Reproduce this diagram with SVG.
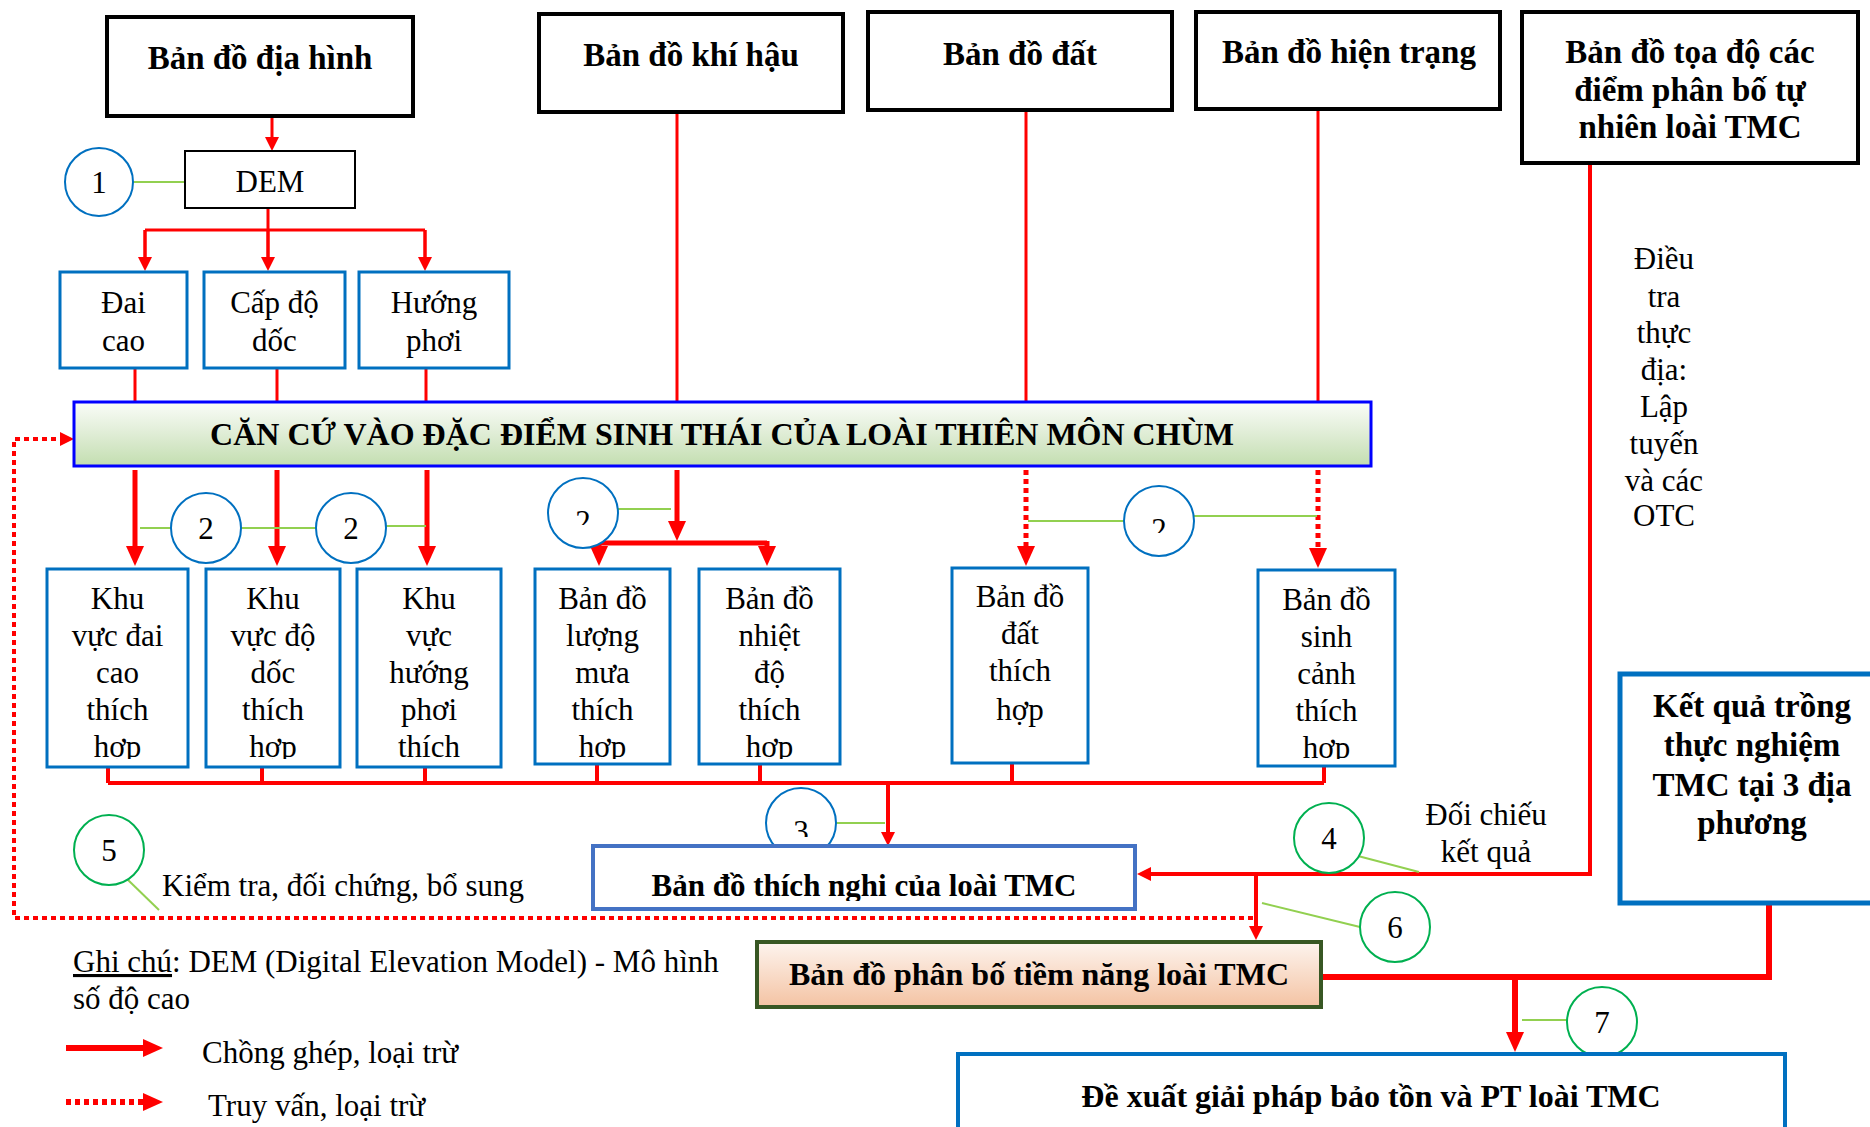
<svg xmlns="http://www.w3.org/2000/svg" width="1870" height="1127" viewBox="0 0 1870 1127">
<defs>
<style>
text{font-family:"Liberation Serif","Times New Roman",serif;fill:#000}
.b{font-weight:bold;font-size:33px;text-anchor:middle}
.m{font-weight:bold;font-size:32px;text-anchor:middle}
.r{font-size:31px;text-anchor:middle}
.l{font-size:31px}
.kbox{fill:#fff;stroke:#000;stroke-width:4}
.bbox{fill:#fff;stroke:#0070C0;stroke-width:3}
.ln{fill:none;stroke:#f00;stroke-width:3}
.th{stroke-width:5}
.md{stroke-width:4}
.xt{stroke-width:6}
.dt{stroke-dasharray:5 4}
.cb{fill:#fff;stroke:#0070C0;stroke-width:2}
.cg{fill:#fff;stroke:#00B050;stroke-width:2}
.ld{stroke:#92D050;stroke-width:2;fill:none}
</style>
<linearGradient id="gGreen" x1="0" y1="0" x2="0" y2="1">
<stop offset="0" stop-color="#FAFDF8"/><stop offset="0.45" stop-color="#E2EED9"/><stop offset="1" stop-color="#C3DEB0"/>
</linearGradient>
<linearGradient id="gPeach" x1="0" y1="0" x2="0" y2="1">
<stop offset="0" stop-color="#FDF4EE"/><stop offset="1" stop-color="#F4C3A3"/>
</linearGradient>
<marker id="aS" markerUnits="userSpaceOnUse" viewBox="0 0 14 14" refX="1" refY="7" markerWidth="14" markerHeight="14" orient="auto"><path d="M0,0L14,7L0,14z" fill="#f00"/></marker>
<marker id="aL" markerUnits="userSpaceOnUse" viewBox="0 0 20 18" refX="1" refY="9" markerWidth="20" markerHeight="18" orient="auto"><path d="M0,0L20,9L0,18z" fill="#f00"/></marker>
<clipPath id="cRow" clipPathUnits="userSpaceOnUse"><rect x="0" y="0" width="1870" height="759"/></clipPath>
<clipPath id="cC2" clipPathUnits="userSpaceOnUse"><rect x="0" y="0" width="1870" height="525"/></clipPath>
<clipPath id="cC2b" clipPathUnits="userSpaceOnUse"><rect x="0" y="0" width="1870" height="533"/></clipPath>
<clipPath id="cC3" clipPathUnits="userSpaceOnUse"><rect x="0" y="0" width="1870" height="837"/></clipPath>
<clipPath id="cTN" clipPathUnits="userSpaceOnUse"><rect x="0" y="0" width="1870" height="901"/></clipPath>
</defs>
<rect width="1870" height="1127" fill="#fff"/>

<g id="connectors">
<path class="ln" d="M272,116V138" marker-end="url(#aS)"/>
<path class="ln" d="M268,208V258M145,230H425M145,230V258M425,230V258"/>
<path class="ln" d="M268,230V258" marker-end="url(#aS)"/>
<path class="ln" d="M145,230V258" marker-end="url(#aS)"/>
<path class="ln" d="M425,230V258" marker-end="url(#aS)"/>
<path class="ln" d="M135,368V402M277,368V402M426,368V402"/>
<path class="ln" d="M677,112V402M1026,110V402M1318,109V402"/>
<path class="ln th" d="M135,470V547" marker-end="url(#aL)"/>
<path class="ln th" d="M277,470V547" marker-end="url(#aL)"/>
<path class="ln th" d="M427,470V547" marker-end="url(#aL)"/>
<path class="ln th" d="M677,470V522" marker-end="url(#aL)"/>
<path class="ln th" d="M599,543H767"/>
<path class="ln th" d="M599,541V547" marker-end="url(#aL)"/>
<path class="ln th" d="M767,541V547" marker-end="url(#aL)"/>
<path class="ln th dt" d="M1026,470V547" marker-end="url(#aL)"/>
<path class="ln th dt" d="M1318,470V549" marker-end="url(#aL)"/>
<path class="ln md" d="M108,767V783M262,764V783M425,767V783M597,764V783M760,764V783M1012,763V783M1324,766V783M108,783H1324"/>
<path class="ln md" d="M888,783V833" marker-end="url(#aS)"/>
<path class="ln md" d="M1590,163V874H1150" marker-end="url(#aS)"/>
<path class="ln md" d="M1256,874V927" marker-end="url(#aS)"/>
<path class="ln md dt" d="M1253,918H14V439H61" marker-end="url(#aS)"/>
<path class="ln xt" d="M1769,903V977H1321"/>
<path class="ln xt" d="M1515,977V1033" marker-end="url(#aL)"/>
<path class="ld" d="M133,182H185"/>
<path class="ld" d="M140,528H171M241,528H316M386,526H426"/>
<path class="ld" d="M618,509H671"/>
<path class="ld" d="M1028,521H1124M1194,516H1317"/>
<path class="ld" d="M836,823H885"/>
<path class="ld" d="M1358,856L1419,872"/>
<path class="ld" d="M127,879L159,910"/>
<path class="ld" d="M1262,903L1360,927"/>
<path class="ld" d="M1522,1020H1567"/>
</g>

<g id="n-diahinh"><rect class="kbox" x="107" y="17" width="306" height="99"/><text class="b" x="260" y="69">Bản đồ địa hình</text></g>
<g id="n-khihau"><rect class="kbox" x="539" y="14" width="304" height="98"/><text class="b" x="691" y="66">Bản đồ khí hậu</text></g>
<g id="n-dat"><rect class="kbox" x="868" y="12" width="304" height="98"/><text class="b" x="1020" y="65">Bản đồ đất</text></g>
<g id="n-hientrang"><rect class="kbox" x="1196" y="12" width="304" height="97"/><text class="b" x="1349" y="63">Bản đồ hiện trạng</text></g>
<g id="n-toado"><rect class="kbox" x="1522" y="12" width="336" height="151"/>
<text class="b" x="1690" y="63">Bản đồ tọa độ các</text><text class="b" x="1690" y="101">điểm phân bố tự</text><text class="b" x="1690" y="138">nhiên loài TMC</text></g>

<g id="n-dem"><rect x="185" y="151" width="170" height="57" fill="#fff" stroke="#000" stroke-width="2"/><text class="r" x="270" y="192">DEM</text></g>
<g id="c1"><circle class="cb" cx="99" cy="182" r="34"/><text class="r" x="99" y="193">1</text></g>

<g id="n-daicao"><rect class="bbox" x="60" y="272" width="127" height="96"/><text class="r" x="123.5" y="313">Đai</text><text class="r" x="123.5" y="351">cao</text></g>
<g id="n-capdo"><rect class="bbox" x="204" y="272" width="141" height="96"/><text class="r" x="274.5" y="313">Cấp độ</text><text class="r" x="274.5" y="351">dốc</text></g>
<g id="n-huong"><rect class="bbox" x="359" y="272" width="150" height="96"/><text class="r" x="434" y="313">Hướng</text><text class="r" x="434" y="351">phơi</text></g>

<g id="n-cancu"><rect x="74" y="402" width="1297" height="64" fill="url(#gGreen)" stroke="#0000FF" stroke-width="3"/><text class="m" x="722" y="445">CĂN CỨ VÀO ĐẶC ĐIỂM SINH THÁI CỦA LOÀI THIÊN MÔN CHÙM</text></g>

<g id="c2a"><circle class="cb" cx="206" cy="528" r="35"/><text class="r" x="206" y="539">2</text></g>
<g id="c2b"><circle class="cb" cx="351" cy="528" r="35"/><text class="r" x="351" y="539">2</text></g>
<g id="c2c"><circle class="cb" cx="583" cy="513" r="35"/><text class="r" x="583" y="532" clip-path="url(#cC2)">2</text></g>
<g id="c2d"><circle class="cb" cx="1159" cy="521" r="35"/><text class="r" x="1159" y="540" clip-path="url(#cC2b)">2</text></g>

<g id="n-kvdaicao"><rect class="bbox" x="47" y="569" width="141" height="198"/>
<g clip-path="url(#cRow)"><text class="r" x="117.5" y="609">Khu</text><text class="r" x="117.5" y="646">vực đai</text><text class="r" x="117.5" y="683">cao</text><text class="r" x="117.5" y="720">thích</text><text class="r" x="117.5" y="757">hợp</text></g></g>
<g id="n-kvdodoc"><rect class="bbox" x="206" y="569" width="134" height="198"/>
<g clip-path="url(#cRow)"><text class="r" x="273" y="609">Khu</text><text class="r" x="273" y="646">vực độ</text><text class="r" x="273" y="683">dốc</text><text class="r" x="273" y="720">thích</text><text class="r" x="273" y="757">hợp</text></g></g>
<g id="n-kvhuong"><rect class="bbox" x="357" y="569" width="144" height="198"/>
<g clip-path="url(#cRow)"><text class="r" x="429" y="609">Khu</text><text class="r" x="429" y="646">vực</text><text class="r" x="429" y="683">hướng</text><text class="r" x="429" y="720">phơi</text><text class="r" x="429" y="757">thích</text></g></g>
<g id="n-luongmua"><rect class="bbox" x="535" y="569" width="135" height="195"/>
<g clip-path="url(#cRow)"><text class="r" x="602.5" y="609">Bản đồ</text><text class="r" x="602.5" y="646">lượng</text><text class="r" x="602.5" y="683">mưa</text><text class="r" x="602.5" y="720">thích</text><text class="r" x="602.5" y="757">hợp</text></g></g>
<g id="n-nhietdo"><rect class="bbox" x="699" y="569" width="141" height="195"/>
<g clip-path="url(#cRow)"><text class="r" x="769.5" y="609">Bản đồ</text><text class="r" x="769.5" y="646">nhiệt</text><text class="r" x="769.5" y="683">độ</text><text class="r" x="769.5" y="720">thích</text><text class="r" x="769.5" y="757">hợp</text></g></g>
<g id="n-datthichhop"><rect class="bbox" x="952" y="568" width="136" height="195"/>
<text class="r" x="1020" y="607">Bản đồ</text><text class="r" x="1020" y="644">đất</text><text class="r" x="1020" y="681">thích</text><text class="r" x="1020" y="720">hợp</text></g>
<g id="n-sinhcanh"><rect class="bbox" x="1258" y="570" width="137" height="196"/>
<g clip-path="url(#cRow)"><text class="r" x="1326.5" y="610">Bản đồ</text><text class="r" x="1326.5" y="647">sinh</text><text class="r" x="1326.5" y="684">cảnh</text><text class="r" x="1326.5" y="721">thích</text><text class="r" x="1326.5" y="758">hợp</text></g></g>

<g id="n-dieutra"><text class="r" x="1664" y="269">Điều</text><text class="r" x="1664" y="307">tra</text><text class="r" x="1664" y="343">thực</text><text class="r" x="1664" y="380">địa:</text><text class="r" x="1664" y="417">Lập</text><text class="r" x="1664" y="454">tuyến</text><text class="r" x="1664" y="491">và các</text><text class="r" x="1664" y="526">OTC</text></g>

<g id="c3"><circle class="cb" cx="801" cy="823" r="35"/><text class="r" x="801" y="842" clip-path="url(#cC3)">3</text></g>
<g id="n-thichnghi"><rect x="593" y="846" width="542" height="63" fill="#fff" stroke="#4472C4" stroke-width="4"/><text class="m" x="864" y="896" style="font-size:31px" clip-path="url(#cTN)">Bản đồ thích nghi của loài TMC</text></g>

<g id="c4"><circle class="cg" cx="1329" cy="838" r="35"/><text class="r" x="1329" y="849">4</text></g>
<g id="n-doichieu"><text class="r" x="1486" y="825">Đối chiếu</text><text class="r" x="1486" y="862">kết quả</text></g>
<g id="c5"><circle class="cg" cx="109" cy="850" r="35"/><text class="r" x="109" y="861">5</text></g>
<g id="n-kiemtra"><text class="l" x="162" y="896">Kiểm tra, đối chứng, bổ sung</text></g>
<g id="c6"><circle class="cg" cx="1395" cy="927" r="35"/><text class="r" x="1395" y="938">6</text></g>

<g id="n-phanbo"><rect x="757" y="942" width="564" height="65" fill="url(#gPeach)" stroke="#385723" stroke-width="4"/><text class="m" x="1039" y="985">Bản đồ phân bố tiềm năng loài TMC</text></g>

<g id="n-ketqua"><rect x="1620" y="674" width="262" height="229" fill="#fff" stroke="#0070C0" stroke-width="5"/>
<text class="b" x="1752" y="717">Kết quả trồng</text><text class="b" x="1752" y="756">thực nghiệm</text><text class="b" x="1752" y="796">TMC tại 3 địa</text><text class="b" x="1752" y="834">phương</text></g>

<g id="c7"><circle class="cg" cx="1602" cy="1022" r="35"/><text class="r" x="1602" y="1033">7</text></g>

<g id="n-dexuat"><rect x="958" y="1054" width="827" height="90" fill="#fff" stroke="#0070C0" stroke-width="4"/><text class="m" x="1371" y="1107">Đề xuất giải pháp bảo tồn và PT loài TMC</text></g>

<g id="legend">
<text class="l" x="73" y="972"><tspan text-decoration="underline">Ghi chú</tspan>: DEM (Digital Elevation Model) - Mô hình</text>
<text class="l" x="73" y="1009">số độ cao</text>
<path class="ln xt" d="M66,1048H144" marker-end="url(#aL)"/>
<text class="l" x="202" y="1063">Chồng ghép, loại trừ</text>
<path class="ln xt dt" d="M66,1102H144" marker-end="url(#aL)"/>
<text class="l" x="208" y="1116">Truy vấn, loại trừ</text>
</g>
</svg>
